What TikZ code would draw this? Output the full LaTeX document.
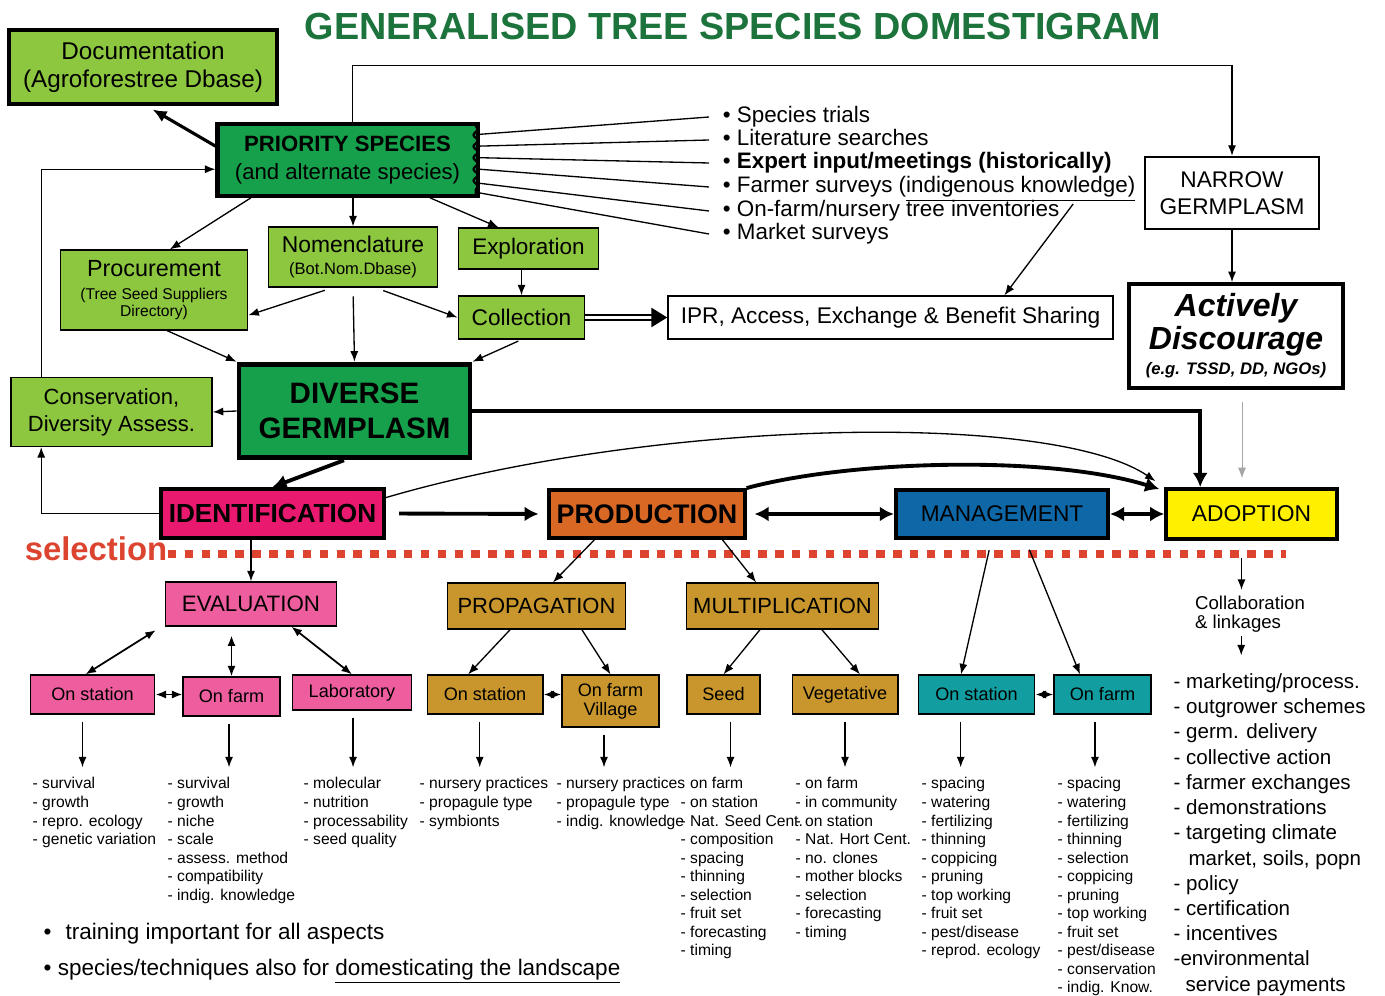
\documentclass[tikz,border=0pt]{standalone}
\usepackage{fontspec}
\setmainfont{Liberation Sans}
\usetikzlibrary{positioning}
\usetikzlibrary{arrows.meta}
\usetikzlibrary{decorations.pathmorphing}
\definecolor{lgreen}{RGB}{141,198,63}
\definecolor{dgreen}{RGB}{22,160,75}
\definecolor{tgreen}{RGB}{28,115,60}
\definecolor{idpink}{RGB}{232,25,110}
\definecolor{porange}{RGB}{216,104,36}
\definecolor{mblue}{RGB}{14,104,168}
\definecolor{ayellow}{RGB}{255,240,0}
\definecolor{epink}{RGB}{238,94,158}
\definecolor{pgold}{RGB}{200,150,44}
\definecolor{mteal}{RGB}{18,158,160}
\definecolor{selred}{RGB}{220,68,48}

\begin{document}
\begin{tikzpicture}
	[x=0.02cm, y=-0.02cm, line width=0.75pt, >={Latex[length=6pt,width=4.6pt]},
	blk/.style={draw, inner sep=0pt, align=center, line width=0.8pt},
	heavy/.style={line width=2.3pt},
	leaf/.style={blk, fill=#1, minimum height=22.1pt, font=\fontsize{10.3}{10.8}\selectfont},
	fat/.style={line width=2.2pt, -{Latex[length=8pt,width=8.5pt]}},
	dbl/.style={line width=2.2pt, {Latex[length=8pt,width=8.5pt]}-{Latex[length=8pt,width=8.5pt]}},
	link/.style={<->, line width=1pt},
	item/.style={anchor=west, inner xsep=7.5pt, inner ysep=0pt, text height=9.5pt, text depth=2.7pt, font=\fontsize{12.75}{14}\selectfont},
	lst/.style={anchor=north west, inner sep=0pt, align=left, font=\fontsize{8.9}{10.55}\selectfont}]
	\path[use as bounding box, fill=white] (0,0) rectangle (1385,996);

	\node[font=\bfseries\fontsize{21.5}{24}\selectfont, text=tgreen] (ttl) at (733,27) {GENERALISED TREE SPECIES DOMESTIGRAM};

	\node[blk, heavy, fill=lgreen, minimum width=153pt, minimum height=42pt, font=\fontsize{13.8}{15.9}\selectfont] (doc) at (143,67) {Documentation\\(Agroforestree Dbase)};
	\node[blk, heavy, fill=dgreen, minimum width=148pt, minimum height=40.8pt, font=\fontsize{12.6}{16.4}\selectfont] (ps) at (347.5,160) {\textbf{PRIORITY SPECIES}\\(and alternate species)};
	\draw[line width=1.3pt, decorate, decoration={snake, amplitude=1.2pt, segment length=6.5pt}] ([xshift=-2.2pt, yshift=-2pt]ps.north east) -- ([xshift=-2.2pt, yshift=2pt]ps.south east);

	\node[item] (t1) at (709,117) {\textbullet\ Species trials};
	\node[item] (t2) at (709,140) {\textbullet\ Literature searches};
	\node[item] (t3) at (709,163) {\textbullet\ \textbf{Expert input/meetings (historically)}};
	\node[item] (t4) at (709,187) {\textbullet\ Farmer surveys (\underline{indigenous knowledge)}};
	\node[item] (t5) at (709,211) {\textbullet\ On-farm/nursery tree inventories};
	\node[item] (t6) at (709,234) {\textbullet\ Market surveys};

	\node[blk, line width=1.5pt, fill=white, minimum width=99.2pt, minimum height=40.8pt, font=\fontsize{12.9}{15.3}\selectfont] (nar) at (1232,193) {NARROW\\GERMPLASM};
	\node[blk, heavy, fill=white, minimum width=121.9pt, minimum height=59pt, font=\bfseries\itshape\fontsize{18.2}{18.7}\selectfont] (act) at (1236,336) {Actively\\Discourage\\[-4.5pt]{\fontsize{9.5}{11}\selectfont (e.g. TSSD, DD, NGOs)}};

	\node[blk, fill=lgreen, minimum width=96.4pt, minimum height=34pt, font=\fontsize{13}{13}\selectfont] (nom) at (353,257) {Nomenclature\\{\fontsize{9.4}{11}\selectfont (Bot.Nom.Dbase)}};
	\node[blk, fill=lgreen, minimum width=80pt, minimum height=23.2pt, font=\fontsize{12.8}{14}\selectfont] (exp) at (528.5,248.5) {Exploration};
	\node[blk, fill=lgreen, minimum width=106.6pt, minimum height=45.4pt, font=\fontsize{13.3}{13}\selectfont] (proc) at (154,290) {Procurement\\{\fontsize{8.9}{9.6}\selectfont (Tree Seed Suppliers}\\[-3.4pt]{\fontsize{8.9}{9.6}\selectfont Directory)}};
	\node[blk, fill=lgreen, minimum width=72pt, minimum height=24.4pt, font=\fontsize{12.9}{14}\selectfont] (coll) at (521.5,317.5) {Collection};
	\node[blk, fill=white, minimum width=253.4pt, minimum height=24.4pt, font=\fontsize{12.9}{14}\selectfont] (ipr) at (890.5,317.5) {IPR, Access, Exchange \& Benefit Sharing};

	\node[blk, line width=2.8pt, fill=dgreen, minimum width=131.5pt, minimum height=53.3pt, font=\bfseries\fontsize{16.8}{19.8}\selectfont] (div) at (354.5,411) {DIVERSE\\GERMPLASM};
	\node[blk, fill=lgreen, minimum width=114.5pt, minimum height=39.1pt, font=\fontsize{12.5}{15.3}\selectfont] (cons) at (111.5,412) {Conservation,\\Diversity Assess.};

	\node[blk, heavy, fill=idpink, minimum width=127pt, minimum height=27.8pt, font=\bfseries\fontsize{14.9}{16}\selectfont] (iden) at (272.5,513.5) {IDENTIFICATION};
	\node[blk, heavy, fill=porange, minimum width=111.1pt, minimum height=27.2pt, font=\bfseries\fontsize{15.3}{16}\selectfont] (prod) at (647,514) {PRODUCTION};
	\node[blk, heavy, fill=mblue, minimum width=120.8pt, minimum height=27.2pt, font=\fontsize{12.9}{14}\selectfont] (man) at (1002,514) {MANAGEMENT};
	\node[blk, heavy, fill=ayellow, minimum width=97pt, minimum height=28.4pt, font=\fontsize{13}{14}\selectfont] (adop) at (1251.5,514) {ADOPTION};

	\node[inner sep=0pt, text=selred, font=\bfseries\fontsize{18.7}{20}\selectfont] (sel) at (96,549) {selection};
	\coordinate (dend) at (1286,554);

	\node[blk, fill=epink, minimum width=97.5pt, minimum height=25pt, font=\fontsize{12.7}{14}\selectfont] (eval) at (251,604) {EVALUATION};
	\node[blk, fill=pgold, minimum width=101.5pt, minimum height=26.1pt, font=\fontsize{12.5}{14}\selectfont] (prop) at (536.5,606) {PROPAGATION};
	\node[blk, fill=pgold, minimum width=109.4pt, minimum height=26.1pt, font=\fontsize{12.5}{14}\selectfont] (mult) at (782.5,606) {MULTIPLICATION};

	\node[leaf=epink, minimum width=70.9pt] (e1) at (92.5,694.5) {On station};
	\node[leaf=epink, minimum width=55pt] (e2) at (231.5,696.5) {On farm};
	\node[leaf=epink, minimum width=68pt, minimum height=19.8pt] (e3) at (352,692.5) {Laboratory};
	\node[leaf=pgold, minimum width=65.8pt] (p1) at (485,694.5) {On station};
	\node[leaf=pgold, minimum width=55pt, minimum height=29.5pt] (p2) at (610.5,701) {On farm\\Village};
	\node[leaf=pgold, minimum width=41.4pt] (m1) at (723.5,694.5) {Seed};
	\node[leaf=pgold, minimum width=60.1pt] (m2) at (845,694.5) {Vegetative};
	\node[leaf=mteal, minimum width=66.3pt] (g1) at (976.5,694.5) {On station};
	\node[leaf=mteal, minimum width=55pt] (g2) at (1102.5,694.5) {On farm};

	\node[lst] (c1) at (32,777) {- survival\\- growth\\- repro. ecology\\- genetic variation};
	\node[lst] (c2) at (167,777) {- survival\\- growth\\- niche\\- scale\\- assess. method\\- compatibility\\- indig. knowledge};
	\node[lst] (c3) at (303,777) {- molecular\\- nutrition\\- processability\\- seed quality};
	\node[lst] (c4) at (419,777) {- nursery practices\\- propagule type\\- symbionts};
	\node[lst] (c5) at (556,777) {- nursery practices\\- propagule type\\- indig. knowledge};
	\node[lst] (c6) at (680,777) {\hphantom{- }on farm\\- on station\\- Nat. Seed Cent.\\- composition\\- spacing\\- thinning\\- selection\\- fruit set\\- forecasting\\- timing};
	\node[lst] (c7) at (795,777) {- on farm\\- in community\\- on station\\- Nat. Hort Cent.\\- no. clones\\- mother blocks\\- selection\\- forecasting\\- timing};
	\node[lst] (c8) at (921,777) {- spacing\\- watering\\- fertilizing\\- thinning\\- coppicing\\- pruning\\- top working\\- fruit set\\- pest/disease\\- reprod. ecology};
	\node[lst] (c9) at (1057,777) {- spacing\\- watering\\- fertilizing\\- thinning\\- selection\\- coppicing\\- pruning\\- top working\\- fruit set\\- pest/disease\\- conservation\\- indig. Know.};

	\node[inner sep=0pt, align=left, font=\fontsize{10.6}{10.8}\selectfont] (colab) at (1250,614) {Collaboration\\\& linkages};
	\node[lst, font=\fontsize{11.7}{14.35}\selectfont] (ra) at (1173,673) {- marketing/process.\\- outgrower schemes\\- germ. delivery\\- collective action\\- farmer exchanges\\- demonstrations\\- targeting climate\\\hspace*{8.5pt}market, soils, popn\\- policy\\- certification\\- incentives\\-environmental\\\hspace*{6.8pt}service payments};

	\node[anchor=west, inner sep=0pt, font=\fontsize{12.8}{14}\selectfont] (b1) at (43,934) {\textbullet\hspace{8pt}training important for all aspects};
	\node[anchor=west, inner sep=0pt, font=\fontsize{12.8}{14}\selectfont] (b2) at (43,971) {\textbullet\ species/techniques also for \underline{domesticating the landscape}};

	\draw[line width=1.8pt, -{Latex[length=8pt,width=7pt]}, shorten >=4pt] (ps.174) -- ([xshift=2pt]doc.south);
	\draw[->] ([xshift=3pt]ps.north) |- ([yshift=51.6pt]nar.north) -- (nar.north);
	\draw[->] ([xshift=-40pt]cons.north) |- (ps.184);
	\foreach \a/\b in {11/t1, 6/t2, 1/t3, 356/t4, 350/t5, 346/t6}
		\draw (ps.\a) -- (\b.west);
	\draw[->] ([yshift=4pt]t5.east) -- (ipr.11);
	\draw[->] (nar.south) -- (nar.south |- act.north);
	\draw[->, gray!70, line width=0.5pt, shorten <=7pt, shorten >=5pt] ([xshift=3.4pt]act.south) -- ([xshift=3.4pt]act.south |- adop.north);

	\draw[->] ([xshift=-55pt]ps.south) -- ([xshift=9pt]proc.north);
	\draw[->] (nom.north |- ps.south) -- (nom.north);
	\draw[->] ([xshift=47pt]ps.south) -- ([xshift=-17pt]exp.north);
	\draw[->] (coll.north |- exp.south) -- (coll.north);
	\draw[->, shorten <=5pt] ([xshift=-11.3pt]nom.south) -- (proc.-15);
	\draw[->, shorten <=5pt] ([xshift=12.5pt]nom.south) -- (coll.west);
	\draw[->, shorten <=5pt] (nom.south) -- (div.north);
	\draw[->] ([xshift=7.4pt]proc.south) -- (div.north west);
	\draw[->, shorten <=2pt] (coll.south) -- (div.north east);
	\draw[double, double distance=2.2pt, line width=0.7pt, -{Triangle[length=9pt,width=11pt]}] (coll.east) -- (ipr.west);

	\draw[->] (div.west) -- (cons.east);
	\draw[fat] (div.east) -| ([xshift=-29.2pt]adop.north);
	\draw[fat] ([xshift=-6pt]div.south) -- (iden.north);
	\draw[->] (iden.west) -| ([xshift=-40pt]cons.south);
	\draw[->, shorten >=6pt] (iden.8) .. controls (650,420) and (1050,410) .. (adop.north west);
	\draw[fat, shorten >=3pt] (prod.north east) .. controls (850,460) and (1050,455) .. (adop.165);
	\draw[fat, shorten <=7.4pt, shorten >=5pt] (iden.east) -- (prod.west);
	\draw[dbl, shorten <=4.5pt] (prod.east) -- (man.west);
	\draw[dbl] (man.east) -- (adop.west);

	\draw[selred, line width=4.6pt, dash pattern=on 4.8pt off 4.8pt] (sel.east |- dend) -- (dend);

	\draw[->] (eval.north |- iden.south) -- (eval.north);
	\draw[->] ([xshift=-30pt]prod.south) -- ([xshift=9.4pt]prop.north);
	\draw[->] ([xshift=43pt]prod.south) -- ([xshift=-15pt]mult.north);
	\draw[->, shorten <=6pt] ([xshift=-6pt]man.south) -- ([xshift=-8.8pt]g1.north);
	\draw[->, shorten <=6pt] ([xshift=13.3pt]man.south) -- ([xshift=-12.8pt]g2.north);
	\draw[->, shorten <=9.6pt, shorten >=3pt] ([xshift=-5.7pt]adop.south) -- ([xshift=-5.7pt]adop.south |- colab.north);
	\draw[->, shorten <=2pt, shorten >=10pt] ([xshift=-5pt]colab.south) -- ([xshift=-5pt]colab.south |- ra.north);

	\draw[link] ([xshift=-5pt,yshift=-2pt]eval.south west) -- ([xshift=-4pt]e1.north);
	\draw[link, shorten <=5pt] (e2.north |- eval.south) -- (e2.north);
	\draw[link] ([xshift=23pt]eval.south) -- (e3.north);
	\draw[link] (e1.east) -- (e1.east -| e2.west);
	\draw[->] ([xshift=-15pt]prop.south) -- ([xshift=-9.6pt]p1.north);
	\draw[->] ([xshift=25.8pt]prop.south) -- (p2.north);
	\draw[link] (p1.east) -- (p1.east -| p2.west);
	\draw[->] ([xshift=-12.8pt]mult.south) -- (m1.north);
	\draw[->] ([xshift=22.4pt]mult.south) -- ([xshift=8.5pt]m2.north);
	\draw[link] (g1.east) -- (g2.west);

	\foreach \b/\c/\s in {e1/c1/-5.7pt, e2/c2/-1.4pt, e3/c3/0.6pt, p1/c4/-3pt, p2/c5/-3.7pt, m1/c6/4pt, m2/c7/0pt, g1/c8/-9pt, g2/c9/-4.3pt}
		\draw[->, shorten <=4pt, shorten >=5.5pt] ([xshift=\s]\b.south) -- ([xshift=\s]\b.south |- \c.north);
\end{tikzpicture}
\end{document}
